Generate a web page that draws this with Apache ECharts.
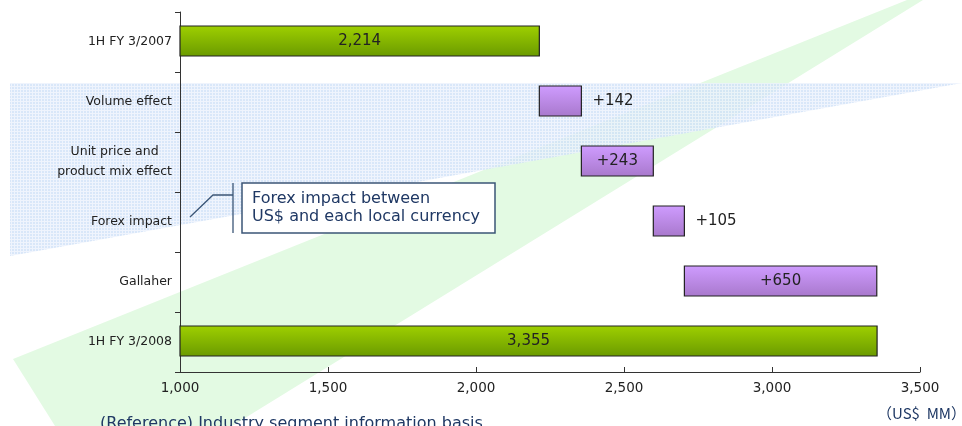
<!DOCTYPE html>
<html>
<head>
<meta charset="utf-8">
<script src="https://cdn.jsdelivr.net/npm/echarts@6/dist/echarts.min.js"></script>
<style>html,body{margin:0;padding:0;background:#fff}#c{width:962px;height:426px}</style>
</head>
<body>
<div id="c"></div>
<script>
// ---- data ----
const categories = ['1H FY 3/2007', 'Volume effect', 'Unit price and\nproduct mix effect', 'Forex impact', 'Gallaher', '1H FY 3/2008'];
const startTotal = 2214;
const deltas = [142, 243, 105, 650];
const endTotal = 3355;
const axisMin = 1000, axisMax = 3500, axisInterval = 500;
const unitLabel = '（US$  MM）';
const noteText = '(Reference) Industry segment information basis';
const calloutLines = ['Forex impact between', 'US$ and each local currency'];

// build waterfall items: [categoryIndex, start, end, value, kind]
const items = [];
items.push([0, axisMin, startTotal, startTotal, 'total']);
let run = startTotal;
deltas.forEach((d, i) => { items.push([i + 1, run, run + d, d, 'delta']); run += d; });
items.push([categories.length - 1, axisMin, endTotal, endTotal, 'total']);

const fmt = v => v.toLocaleString('en-US');
const FONT = '"DejaVu Sans", sans-serif';
const CJKFONT = '"Noto Sans CJK JP", "DejaVu Sans", sans-serif';

// blue dotted pattern
const pc = document.createElement('canvas');
pc.width = 3; pc.height = 3;
const pctx = pc.getContext('2d');
pctx.fillStyle = '#d0e1f8'; pctx.fillRect(0, 0, 3, 3);
pctx.fillStyle = '#ebf2fd'; pctx.fillRect(0, 2, 3, 1); pctx.fillRect(2, 0, 1, 3);

const greenGrad = new echarts.graphic.LinearGradient(0, 0, 0, 1, [
  { offset: 0, color: '#9fd000' }, { offset: 1, color: '#6a9a00' }]);
const purpleGrad = new echarts.graphic.LinearGradient(0, 0, 0, 1, [
  { offset: 0, color: '#cf9cff' }, { offset: 1, color: '#a878cc' }]);

const chart = echarts.init(document.getElementById('c'), null, { renderer: 'canvas' });
chart.setOption({
  animation: false,
  grid: { left: 180, right: 42, top: 12, bottom: 54, containLabel: false },
  xAxis: {
    type: 'value', min: axisMin, max: axisMax, interval: axisInterval,
    axisLine: { show: true, lineStyle: { color: '#333', width: 1 } },
    axisTick: { show: true, inside: true, length: 5, lineStyle: { color: '#333' } },
    splitLine: { show: false },
    axisLabel: { color: '#222', fontSize: 13.5, fontFamily: FONT, margin: 9, formatter: v => fmt(v) }
  },
  yAxis: {
    type: 'category', data: categories, inverse: true,
    axisLine: { show: true, lineStyle: { color: '#333', width: 1 } },
    axisTick: { show: true, length: 5, lineStyle: { color: '#333' } },
    axisLabel: {
      color: '#222', fontSize: 12.5, fontFamily: FONT, margin: 8, lineHeight: 20, align: 'right',
      formatter: v => v.indexOf('\n') >= 0 ? v.split('\n').map(s => '{c|' + s + '}').join('\n') : v,
      rich: { c: { align: 'center', fontSize: 12.5, fontFamily: FONT, color: '#222', lineHeight: 20 } }
    }
  },
  graphic: [
    { type: 'polygon', z: -20, silent: true,
      shape: { points: [[907, 0], [923, 0], [232, 426], [55, 426], [13, 359]] },
      style: { fill: '#e3fae3' } },
    { type: 'polygon', z: -10, silent: true,
      shape: { points: [[10, 83], [962, 83], [10, 256]] },
      style: { fill: { image: pc, repeat: 'repeat' }, opacity: 0.8 } },
    { type: 'polyline', z: 5, silent: true,
      shape: { points: [[190, 217], [213, 195], [233, 195]] },
      style: { stroke: '#3b5677', lineWidth: 1.3, fill: null } },
    { type: 'line', z: 5, silent: true,
      shape: { x1: 233, y1: 183, x2: 233, y2: 233 },
      style: { stroke: '#3b5677', lineWidth: 1.3 } },
    { type: 'rect', z: 5, silent: true,
      shape: { x: 242, y: 183, width: 253, height: 50 },
      style: { fill: '#fff', stroke: '#3b5677', lineWidth: 1.5 } },
    { type: 'text', z: 6, silent: true, left: 252, top: 190,
      style: { text: calloutLines.join('\n'), fill: '#1f3864', font: '16px ' + FONT, lineHeight: 18 } },
    { type: 'text', z: 6, silent: true, right: -4, top: 406,
      style: { text: unitLabel, fill: '#1f3864', font: '15px ' + CJKFONT, align: 'right' } },
    { type: 'text', z: 6, silent: true, left: 100, top: 416,
      style: { text: noteText, fill: '#1f3864', font: '16px ' + FONT } }
  ],
  series: [{
    type: 'custom',
    data: items,
    encode: { x: [1, 2], y: 0 },
    z: 10,
    renderItem: function (params, api) {
      const cat = api.value(0), x0 = api.value(1), x1 = api.value(2);
      const val = api.value(3);
      const kind = items[params.dataIndex][4];
      const p0 = api.coord([x0, cat]);
      const p1 = api.coord([x1, cat]);
      const h = 30;
      const w = p1[0] - p0[0];
      const label = kind === 'total' ? fmt(val) : '+' + fmt(val);
      const outside = w < 50;
      return {
        type: 'group',
        children: [
          { type: 'rect', shape: { x: p0[0], y: p0[1] - h / 2 - 1, width: w, height: h },
            style: { fill: kind === 'total' ? greenGrad : purpleGrad, stroke: '#222', lineWidth: 1.2 } },
          { type: 'text',
            style: { text: label, x: outside ? p1[0] + 11 : (p0[0] + p1[0]) / 2, y: p0[1] - 1,
              align: outside ? 'left' : 'center', verticalAlign: 'middle',
              fill: '#222', font: '15px ' + FONT } }
        ]
      };
    }
  }]
});
</script>
</body>
</html>
